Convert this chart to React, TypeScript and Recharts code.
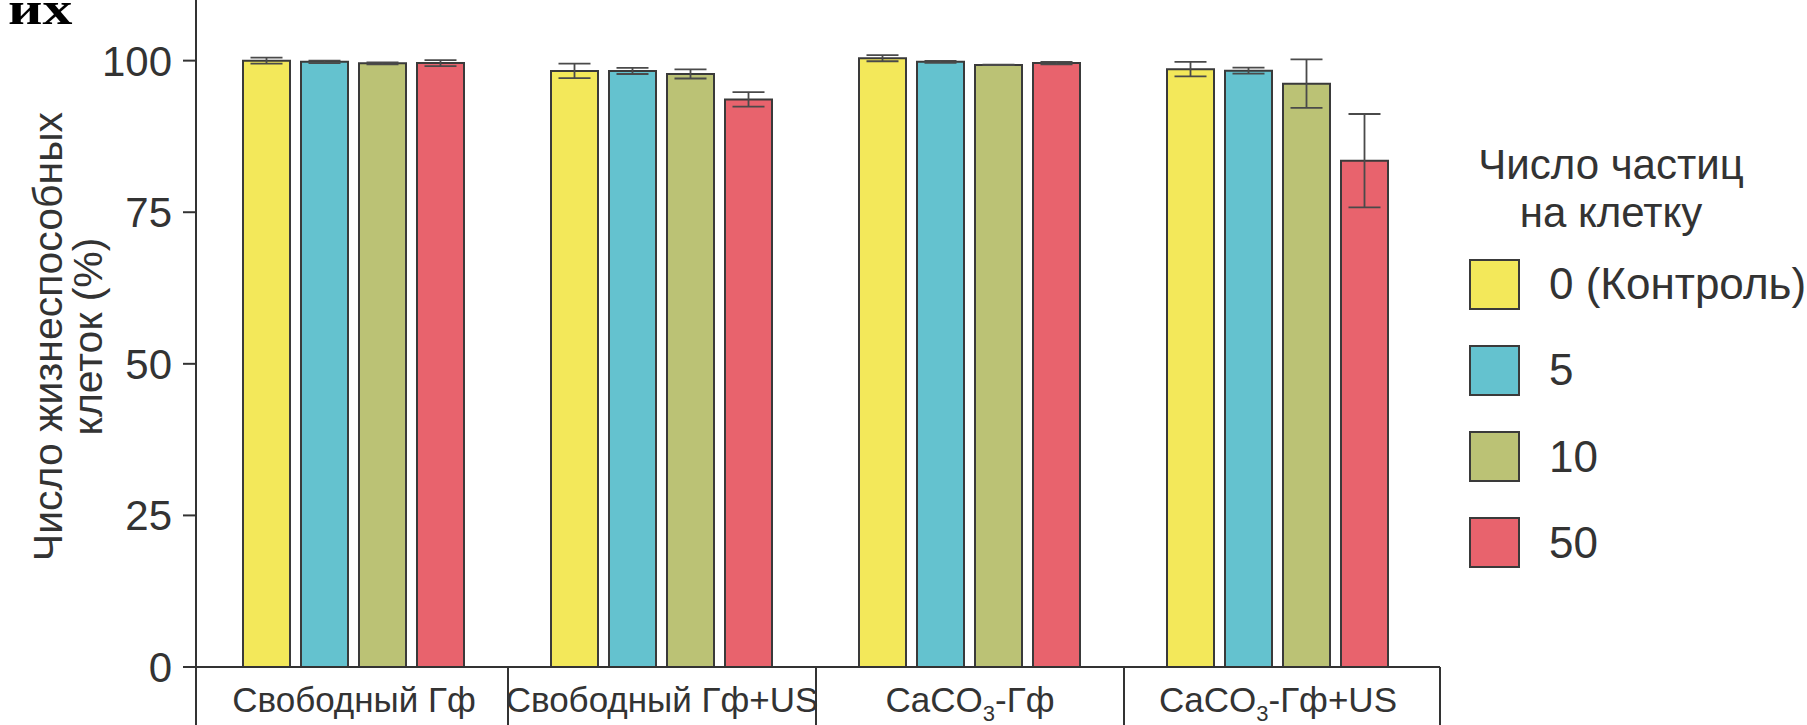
import React from 'react';
import { BarChart, Bar, XAxis, YAxis, Legend, ErrorBar } from 'recharts';

// ---- data ----
const categories = ['Свободный Гф', 'Свободный Гф+US', 'CaCO₃-Гф', 'CaCO₃-Гф+US'];
const seriesNames = ['0 (Контроль)', '5', '10', '50'];
const seriesColors = ['#F3E85A', '#64C2CF', '#BBC275', '#E8636D'];

const control = [100.0, 98.3, 100.4, 98.6];
const controlErr = [0.5, 1.2, 0.5, 1.2];
const p5 = [99.8, 98.3, 99.8, 98.35];
const p5Err = [0.2, 0.5, 0.15, 0.5];
const p10 = [99.55, 97.8, 99.3, 96.2];
const p10Err = [0.15, 0.75, 0.05, 4.0];
const p50 = [99.6, 93.6, 99.6, 83.5];
const p50Err = [0.5, 1.2, 0.2, 7.7];

const yTicks = [0, 25, 50, 75, 100];
const yLabelLines = ['Число жизнеспособных', 'клеток (%)'];
const legendTitle = ['Число частиц', 'на клетку'];
const cornerText = 'их';

const data = categories.map((c, i) => ({
  group: c,
  s0: control[i], e0: controlErr[i],
  s1: p5[i], e1: p5Err[i],
  s2: p10[i], e2: p10Err[i],
  s3: p50[i], e3: p50Err[i],
}));
const errKeys = ['e0', 'e1', 'e2', 'e3'];
const valKeys = ['s0', 's1', 's2', 's3'];

// ---- layout ----
const W = 1807;
const H = 725;
const MARGIN = { top: 0, right: 367, bottom: 0, left: 0 };
const Y_AXIS_W = 196;
const X_AXIS_H = 58;
const X_PAD = { left: 4, right: 8 };
const PLOT_W = W - MARGIN.left - MARGIN.right - Y_AXIS_W;
const BAND = (PLOT_W - X_PAD.left - X_PAD.right) / categories.length;
const TEXT = '#333333';
const FONT = '"Liberation Sans", Arial, sans-serif';

const XTick = (props: any) => {
  const { x, y, payload, index } = props;
  const label: string = String(payload.value);
  const parts = label.split('₃');
  const axisY = y;
  const isLast = index === categories.length - 1;
  const rightX = x + BAND / 2 + (isLast ? X_PAD.right : 0);
  return (
    <g>
      {index === 0 && (
        <line
          x1={x - BAND / 2 - X_PAD.left}
          y1={axisY}
          x2={x - BAND / 2 - X_PAD.left}
          y2={H}
          stroke={TEXT}
          strokeWidth={2}
        />
      )}
      <line x1={rightX} y1={axisY} x2={rightX} y2={H} stroke={TEXT} strokeWidth={2} />
      <text x={x} y={axisY + 45} textAnchor="middle" fill={TEXT} fontSize={35} fontFamily={FONT}>
        {parts.length > 1 ? (
          <>
            <tspan>{parts[0]}</tspan>
            <tspan fontSize={22} dy={9}>3</tspan>
            <tspan dy={-9}>{parts[1]}</tspan>
          </>
        ) : (
          label
        )}
      </text>
    </g>
  );
};

const YLabel = (props: any) => {
  const vb = props.viewBox || {};
  const cy = (vb.y || 0) + (vb.height || 0) / 2 + 3;
  const baselines = [62, 102];
  return (
    <g>
      {yLabelLines.map((t, i) => (
        <text
          key={i}
          x={baselines[i]}
          y={cy}
          transform={`rotate(-90, ${baselines[i]}, ${cy})`}
          textAnchor="middle"
          fill={TEXT}
          fontSize={41}
          fontFamily={FONT}
        >
          {t}
        </text>
      ))}
    </g>
  );
};

const LegendContent = (props: any) => {
  const payload = [...(props.payload || [])].sort(
    (a: any, b: any) => seriesNames.indexOf(a.value) - seriesNames.indexOf(b.value)
  );
  return (
    <div style={{ position: 'relative', width: 367, height: 620, fontFamily: FONT, color: TEXT }}>
      <div
        style={{
          position: 'absolute',
          left: 0,
          top: 141,
          width: 342,
          textAlign: 'center',
          fontSize: 42,
          lineHeight: '48px',
        }}
      >
        {legendTitle.map((t, i) => (
          <div key={i}>{t}</div>
        ))}
      </div>
      {payload.map((p: any, i: number) => (
        <div
          key={i}
          style={{
            position: 'absolute',
            left: 29,
            top: 259 + i * 86.3,
            height: 50,
            display: 'flex',
            alignItems: 'center',
          }}
        >
          <div
            style={{
              width: 47,
              height: 47,
              background: p.color,
              border: '2px solid #3a3a3a',
              boxSizing: 'content-box',
            }}
          />
          <span style={{ marginLeft: 29, fontSize: 44, whiteSpace: 'nowrap' }}>{p.value}</span>
        </div>
      ))}
    </div>
  );
};

export default function App() {
  return (
    <div style={{ position: 'absolute', left: 0, top: 0, width: W, height: H, background: '#fff' }}>
      <div
        style={{
          position: 'absolute',
          left: 8,
          top: -14,
          fontFamily: '"Liberation Serif", "Times New Roman", serif',
          fontWeight: 'bold',
          fontSize: 46,
          lineHeight: '46px',
          color: '#000',
          transform: 'scaleX(1.3)',
          transformOrigin: 'left top',
          zIndex: 2,
        }}
      >
        {cornerText}
      </div>
      <BarChart
        width={W}
        height={H}
        data={data}
        margin={MARGIN}
        barCategoryGap={43}
        barGap={11}
      >
        <XAxis
          dataKey="group"
          height={X_AXIS_H}
          padding={X_PAD}
          tickLine={false}
          tickSize={0}
          tickMargin={0}
          interval={0}
          axisLine={{ stroke: TEXT, strokeWidth: 2 }}
          tick={<XTick />}
        />
        <YAxis
          width={Y_AXIS_W}
          domain={[0, 110]}
          ticks={yTicks}
          allowDataOverflow
          tickSize={13}
          tickMargin={11}
          axisLine={{ stroke: TEXT, strokeWidth: 2 }}
          tickLine={{ stroke: TEXT, strokeWidth: 2 }}
          tick={{ fill: TEXT, fontSize: 42, fontFamily: FONT }}
          label={<YLabel />}
        />
        <Legend
          layout="vertical"
          align="center"
          verticalAlign="middle"
          wrapperStyle={{ position: 'absolute', left: 1440, top: 0, width: 367, height: 620 }}
          content={<LegendContent />}
        />
        {valKeys.map((k, i) => (
          <Bar
            key={k}
            dataKey={k}
            name={seriesNames[i]}
            fill={seriesColors[i]}
            stroke="#3a3a3a"
            strokeWidth={2}
            isAnimationActive={false}
          >
            <ErrorBar dataKey={errKeys[i]} width={16} stroke="#4a4a4a" strokeWidth={1.8} direction="y" />
          </Bar>
        ))}
      </BarChart>
    </div>
  );
}
